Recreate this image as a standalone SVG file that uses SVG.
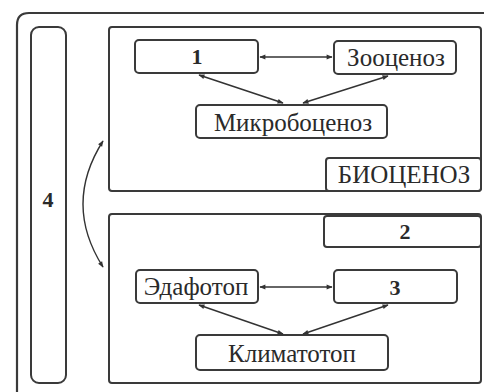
<svg xmlns="http://www.w3.org/2000/svg" width="484" height="392" viewBox="0 0 484 392">
<defs>
<marker id="ah" viewBox="0 0 10 10" refX="9" refY="5" markerWidth="8" markerHeight="6" markerUnits="userSpaceOnUse" orient="auto-start-reverse">
<path d="M0,1 L10,5 L0,9 Z" fill="#333"/>
</marker>
<style>
.b{fill:#fff;stroke:#3a3a3a;stroke-width:2}
.t{font-family:"Liberation Serif","DejaVu Serif",serif;font-size:25px;fill:#2a2a2a;text-anchor:middle}
.n{font-weight:bold;font-size:22px}
.c{fill:none;stroke:#333;stroke-width:1.4;marker-start:url(#ah);marker-end:url(#ah)}
</style>
</defs>
<rect width="484" height="392" fill="#fff"/>
<path d="M17,392 L17,25 Q17,13 29,13 L484,13" fill="none" stroke="#3a3a3a" stroke-width="2.2"/>
<g id="node4">
<rect class="b" x="31" y="27" width="35" height="356" rx="8"/>
<text class="t n" x="48" y="207">4</text>
</g>
<g id="biocenosis">
<rect class="b" x="109" y="27" width="372" height="164" rx="3"/>
<g id="label-biocenosis">
<rect class="b" x="326" y="158" width="155" height="33" rx="3"/>
<text class="t" x="404" y="183">БИОЦЕНОЗ</text>
</g>
<g id="node1">
<rect class="b" x="135" y="40" width="123" height="33" rx="4"/>
<text class="t n" x="197" y="64">1</text>
</g>
<g id="zoocenosis">
<rect class="b" x="334" y="41" width="122" height="33" rx="4"/>
<text class="t" x="396" y="66">Зооценоз</text>
</g>
<g id="microbocenosis">
<rect class="b" x="196" y="105" width="191" height="33" rx="4"/>
<text class="t" x="293" y="131">Микробоценоз</text>
</g>
</g>
<g id="ecotope">
<rect class="b" x="109" y="214" width="372" height="169" rx="3"/>
<g id="node2">
<rect class="b" x="324" y="216" width="157" height="31" rx="3"/>
<text class="t n" x="405" y="239">2</text>
</g>
<g id="edaphotope">
<rect class="b" x="136" y="270" width="122" height="33" rx="4"/>
<text class="t" x="196" y="295">Эдафотоп</text>
</g>
<g id="node3">
<rect class="b" x="334" y="270" width="123" height="33" rx="4"/>
<text class="t n" x="395" y="295">3</text>
</g>
<g id="climatotope">
<rect class="b" x="196" y="335" width="192" height="35" rx="4"/>
<text class="t" x="292" y="362">Климатотоп</text>
</g>
</g>
<g id="connectors">
<line class="c" x1="260" y1="57" x2="332" y2="57"/>
<line class="c" x1="199" y1="75" x2="283" y2="103"/>
<line class="c" x1="388" y1="76" x2="303" y2="103"/>
<line class="c" x1="260" y1="287" x2="332" y2="287"/>
<line class="c" x1="199" y1="305" x2="283" y2="334"/>
<line class="c" x1="388" y1="305" x2="303" y2="334"/>
<path class="c" d="M103,141 Q63,204 103,267"/>
</g>
</svg>
